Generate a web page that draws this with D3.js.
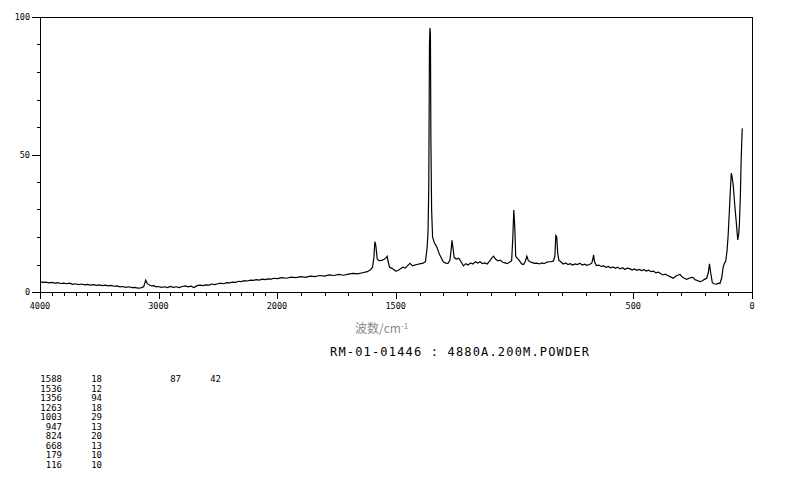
<!DOCTYPE html>
<html>
<head>
<meta charset="utf-8">
<script src="https://cdn.jsdelivr.net/npm/d3@7/dist/d3.min.js"></script>
<style>
  html, body { margin: 0; padding: 0; background: #fff; }
  svg { display: block; }
</style>
</head>
<body>
<svg id="chart" width="794" height="482"></svg>
<script>
// ---- data: [wavenumber cm-1, intensity] ----
const spectrumHigh = [
  [4000,3.7],[3975,3.5],[3950,3.6],[3925,3.3],[3900,3.5],[3875,3.2],[3850,3.4],[3825,3.1],[3800,3.2],[3775,3.0],
  [3750,3.2],[3725,2.8],[3700,3.0],[3675,2.7],[3650,2.9],[3625,2.6],[3600,2.8],[3575,2.5],[3550,2.7],[3525,2.4],
  [3500,2.6],[3475,2.3],[3450,2.5],[3425,2.2],[3400,2.4],[3375,2.1],[3350,2.2],[3325,1.9],[3300,2.0],[3275,1.7],
  [3250,1.9],[3225,1.6],[3200,1.7],[3175,1.4],[3150,1.5],[3125,1.9],[3108,4.3],[3095,3.1],[3080,2.6],[3060,2.2],
  [3040,2.3],[3020,1.9],[3000,2.0],[2975,1.7],[2950,1.9],[2925,1.6],[2900,2.0],[2875,1.7],[2850,1.9],[2825,1.6],
  [2800,2.0],[2775,2.2],[2750,1.9],[2725,2.1],[2700,1.6],[2675,2.3],[2650,2.5],[2625,2.3],[2600,2.6],[2575,2.5],
  [2550,2.9],[2525,2.7],[2500,3.0],[2475,3.2],[2450,3.0],[2425,3.4],[2400,3.3],[2375,3.6],[2350,3.5],[2325,3.9],
  [2300,3.8],[2275,4.1],[2250,4.0],[2225,4.3],[2200,4.2],[2175,4.5],[2150,4.3],[2125,4.7],[2100,4.5],[2075,4.8],
  [2050,4.7],[2025,5.0]
];
const spectrumMid = [
  [2000,4.9],[1980,5.2],[1960,5.0],[1940,5.4],[1920,5.2],[1900,5.6],[1880,5.3],[1860,5.8],[1840,5.6],[1820,6.0],
  [1800,5.8],[1780,6.2],[1760,6.0],[1740,6.4],[1720,6.1],[1700,6.5],[1680,6.8],[1660,6.6],[1640,7.0],[1620,7.4],
  [1605,8.2],[1598,9.0],[1592,12.5],[1588,18.3],[1584,17.0],[1578,12.0],[1570,11.4],[1560,11.5],[1550,11.8],[1540,12.5],
  [1536,13.0],[1532,11.0],[1526,9.0],[1516,8.6],[1500,7.6],[1490,7.8],[1480,8.5],[1470,9.0],[1460,8.7],[1450,9.6],
  [1440,10.4],[1430,9.5],[1420,9.8],[1410,10.0],[1400,10.2],[1385,10.5],[1375,11.0],[1368,16.0],[1364,22.0],[1361,38.0],
  [1358,90.0],[1356,96.0],[1354,94.0],[1352,55.0],[1349,30.0],[1345,20.0],[1338,18.0],[1328,16.5],[1315,13.5],[1300,11.0],
  [1290,10.5],[1280,10.4],[1272,11.5],[1266,16.0],[1263,18.8],[1259,16.0],[1254,12.5],[1245,12.0],[1235,12.3],[1225,11.0],
  [1215,9.5],[1205,10.3],[1195,9.8],[1185,10.6],[1175,10.2],[1165,11.0],[1155,10.5],[1145,11.0],[1135,10.3],[1125,10.6],
  [1115,10.2],[1105,11.2],[1095,12.4],[1088,13.0],[1080,12.0],[1070,11.3],[1060,11.6],[1050,10.8],[1040,10.6],[1030,10.3],
  [1020,10.9],[1012,11.4],[1007,20.0],[1003,29.8],[999,24.0],[995,13.0],[988,12.2],[980,11.5],[970,10.2],[962,10.0],
  [955,11.0],[948,13.0],[942,11.5],[935,11.0],[925,10.7],[915,10.4],[905,10.5],[895,10.2],[885,10.6],[875,10.3],
  [865,10.8],[855,11.0],[845,11.0],[836,11.3],[830,13.0],[826,20.5],[822,20.0],[818,14.0],[813,11.5],[805,11.0]
];
const spectrumLow = [
  [795,10.2],[785,10.6],[775,10.0],[765,10.3],[755,9.8],[745,10.2],[735,10.0],[725,10.5],[715,9.8],[705,10.1],
  [695,9.7],[685,10.0],[675,10.4],[670,12.0],[667,13.5],[663,11.0],[655,9.6],[645,9.8],[635,9.3],[625,9.5],
  [615,9.0],[605,9.3],[595,8.8],[585,9.1],[575,8.6],[565,9.0],[555,8.4],[545,8.8],[535,8.2],[525,8.7],
  [515,8.5],[505,8.0],[495,8.4],[485,7.9],[475,8.2],[465,7.8],[455,8.1],[445,7.6],[435,7.9],[425,7.4],
  [415,7.6],[405,7.0],[395,7.2],[387,6.8],[375,6.2],[365,6.5],[355,6.0],[345,5.6],[332,5.0],[320,5.8],
  [310,6.2],[303,6.4],[295,5.5],[285,5.0],[275,4.6],[265,5.0],[255,5.3],[247,5.2],[240,4.5],[230,4.2],
  [219,3.8],[210,4.0],[200,4.6],[191,5.0],[184,7.0],[179,10.2],[174,7.0],[167,3.4],[160,3.0],[149,2.9],
  [140,3.2],[135,3.1],[128,5.0],[121,9.2],[116,10.5],[111,11.0],[105,15.0],[100,21.3],[95,30.0],[90,38.9],
  [87,43.2],[84,42.0],[79,38.9],[73,32.0],[67,26.2],[60,18.9],[56,21.0],[53,25.0],[49,35.0],[46,46.8],
  [43,55.0],[41,59.5]
];
const xTickValues = [4000,3900,3800,3700,3600,3500,3400,3300,3200,3100,3000,2900,2800,2700,2600,2500,2400,2300,2200,2100,2000,1900,1800,1700,1600,1500,1400,1300,1200,1100,1000,900,800,700,600,500,400,300,200,100,0];
const xLabelValues = [4000,3000,2000,1500,500,0];
const yTickValues = [0,10,20,30,40,50,60,70,80,90,100];
const yLabelValues = [0,50,100];
const peakWave = ["1588","1536","1356","1263","1003","947","824","668","179","116"];
const peakInt  = ["18","12","94","18","29","13","20","13","10","10"];
const extraPeak = ["87","42"];
const xAxisTitle = "波数/cm";
const chartTitle = "RM-01-01446 : 4880A.200M.POWDER";

// ---- drawing ----
const svg = d3.select("#chart");
const L = 40, R = 752, T = 17, B = 292;
const x = d3.scaleLinear().domain([4000, 2000, 0]).range([L, 277, R]);
const y = d3.scaleLinear().domain([0, 100]).range([B, T]);
const mono = "'DejaVu Sans Mono', 'Liberation Mono', monospace";

// frame
svg.append("path")
  .attr("d", `M${L + 0.5},${T + 0.5}H${R + 0.5}V${B + 0.5}H${L + 0.5}Z`)
  .attr("fill", "none").attr("stroke", "#000").attr("stroke-width", 1)
  .attr("shape-rendering", "crispEdges");

// x axis
const gx = svg.append("g").attr("transform", `translate(0,${B})`)
  .attr("shape-rendering", "crispEdges");
gx.selectAll("line.t").data(xTickValues).join("line")
  .attr("x1", d => Math.round(x(d)) + 0.5).attr("x2", d => Math.round(x(d)) + 0.5)
  .attr("y1", 0).attr("y2", d => xLabelValues.includes(d) ? 6.5 : 3.5)
  .attr("stroke", "#000");
gx.selectAll("text").data(xLabelValues).join("text")
  .attr("x", d => x(d)).attr("y", 17)
  .attr("text-anchor", "middle")
  .attr("font-family", mono).attr("font-size", 8.5)
  .text(d => d);

// y axis
const gy = svg.append("g").attr("shape-rendering", "crispEdges");
gy.selectAll("line").data(yTickValues).join("line")
  .attr("x1", d => yLabelValues.includes(d) ? L - 8 : L - 3).attr("x2", L)
  .attr("y1", d => Math.round(y(d)) + 0.5).attr("y2", d => Math.round(y(d)) + 0.5)
  .attr("stroke", "#000");
gy.selectAll("text").data(yLabelValues).join("text")
  .attr("x", 30).attr("y", d => y(d) + 3)
  .attr("text-anchor", "end")
  .attr("font-family", mono).attr("font-size", 8.5)
  .text(d => d);

// spectrum
const pts = spectrumHigh.concat(spectrumMid, spectrumLow);
const line = d3.line().x(d => x(d[0])).y(d => y(d[1]));
svg.append("path").datum(pts)
  .attr("d", line)
  .attr("fill", "none").attr("stroke", "#000").attr("stroke-width", 1.2)
  .attr("stroke-linejoin", "miter");

// axis title
const at = svg.append("text")
  .attr("x", 355).attr("y", 333)
  .attr("font-family", "'Noto Sans CJK SC', sans-serif")
  .attr("font-size", 12).attr("fill", "#8a8a8a");
at.append("tspan").text(xAxisTitle);
at.append("tspan").attr("dy", -4).attr("font-size", 8).text("-1");

// chart title
svg.append("text")
  .attr("x", 330).attr("y", 356)
  .attr("font-family", mono).attr("font-size", 12)
  .attr("textLength", 259).attr("lengthAdjust", "spacing")
  .text(chartTitle);

// peak table
const rowY = i => 382 + i * 9.5;
const tbl = svg.append("g").attr("font-family", mono).attr("font-size", 9).attr("text-anchor", "end");
tbl.selectAll("text.w").data(peakWave).join("text").attr("class", "w")
  .attr("x", 62).attr("y", (d, i) => rowY(i)).text(d => d);
tbl.selectAll("text.v").data(peakInt).join("text").attr("class", "v")
  .attr("x", 102).attr("y", (d, i) => rowY(i)).text(d => d);
tbl.append("text").attr("x", 181).attr("y", rowY(0)).text(extraPeak[0]);
tbl.append("text").attr("x", 221).attr("y", rowY(0)).text(extraPeak[1]);
</script>
</body>
</html>
